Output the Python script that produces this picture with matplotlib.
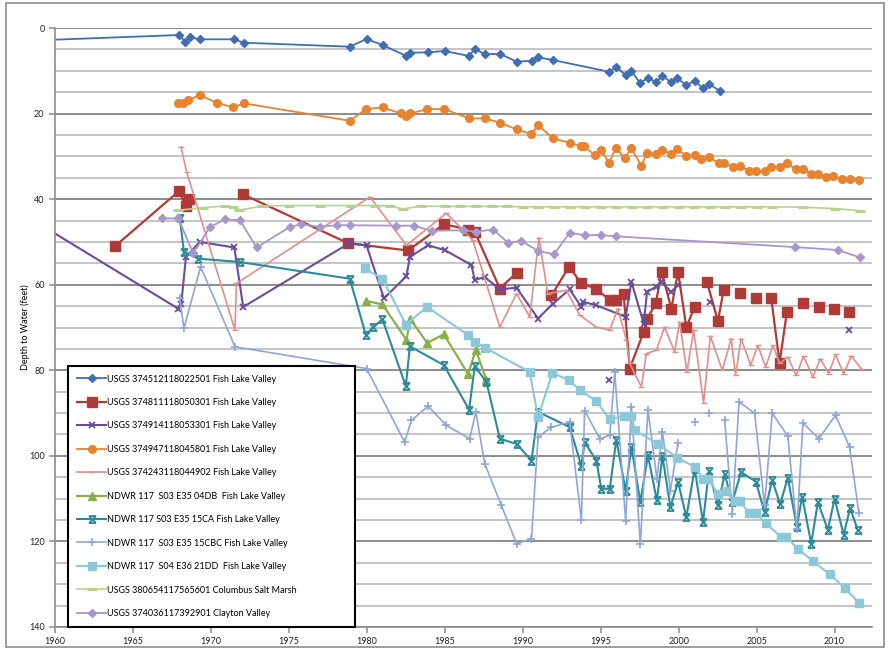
import numpy as np
import matplotlib
matplotlib.use('Agg')
import matplotlib.pyplot as plt
from matplotlib.path import Path
from matplotlib.patches import Rectangle

nan = np.nan

# --- Dados (anos decimais, profundidade em pes) ---
yr_fl1 = [1958.0, 1967.97, 1968.33, 1968.65, 1969.29, 1971.47, 1972.13, 1978.91, 1979.98, 1981.01,
          1982.5, 1982.76, 1983.93, 1985.0, 1986.56, 1986.92, 1987.56, 1988.57, 1989.6, 1990.62,
          1990.98, 1991.94, 1995.53, 1996.01, 1996.6, 1996.97, 1997.5, 1998.03, 1998.57, 1998.96,
          1999.53, 1999.89, 2000.49, 2001.03, 2001.56, 2001.94, 2002.63]
d_fl1 = [3.0, 1.64, 3.2, 2.18, 2.64, 2.64, 3.44, 4.37, 2.57, 3.98,
         6.48, 5.78, 5.68, 5.38, 6.55, 4.91, 6.08, 6.08, 7.88, 7.65,
         6.85, 7.49, 10.22, 9.19, 10.99, 9.99, 12.8, 11.77, 12.56, 11.23,
         12.7, 11.77, 13.33, 12.4, 14.1, 13.1, 14.67]

yr_fl2 = [1963.85, 1967.97, 1968.38, 1968.59, nan, 1972.07, 1978.8, 1982.65, 1984.94, 1986.5,
          1986.92, 1988.53, 1989.6, nan, 1991.84, 1992.97, 1993.76, 1994.68, 1995.58, 1996.0,
          1996.47, 1996.86, 1997.76, 1997.97, 1998.53, 1998.91, 1999.53, 1999.96, 2000.49, 2001.03,
          nan, 2001.81, 2002.52, 2002.88, nan, 2003.91, nan, 2004.98, nan, 2005.94,
          2006.47, 2006.94, nan, 2007.97, nan, 2008.99, nan, 2009.94, nan, 2010.9]
d_fl2 = [51.0, 38.05, 41.6, 40.0, nan, 38.9, 50.3, 52.0, 45.85, 47.1,
         47.6, 60.9, 57.2, nan, 62.5, 55.8, 59.7, 60.9, 63.6, 63.6,
         62.1, 79.6, 71.0, 68.1, 64.3, 57.0, 65.6, 57.0, 69.9, 65.2,
         nan, 59.3, 68.5, 61.3, nan, 61.9, nan, 63.2, nan, 63.2,
         78.3, 66.4, nan, 64.3, nan, 65.2, nan, 65.7, nan, 66.4]

yr_fl3 = [1959.0, 1967.9, 1968.1, 1968.4, 1969.29, 1971.5, 1972.07, 1978.87, 1979.98, 1981.1,
          1982.54, 1982.76, 1983.93, 1985.0, 1986.71, 1986.92, 1987.56, 1988.53, 1989.6, 1990.98,
          1991.94, 1993.01, 1993.76, 1993.87, 1994.72, 1996.6, 1996.97, 1997.76, 1997.97, 1998.53,
          1998.89, 1999.53, 1999.96, nan, 1995.53, nan, 2001.99, nan, 2010.9]
d_fl3 = [45.8, 65.6, 64.4, 53.5, 50.0, 51.3, 65.2, 50.3, 50.8, 63.2,
         58.0, 53.5, 50.8, 51.9, 55.4, 58.9, 58.2, 61.1, 60.7, 67.9,
         64.4, 61.1, 65.2, 64.0, 64.8, 67.5, 59.3, 69.1, 61.7, 60.5,
         59.3, 61.7, 60.1, nan, 82.2, nan, 64.0, nan, 70.6]

yr_fl4 = [1967.9, 1968.22, 1968.54, 1969.29, 1970.37, 1971.43, 1972.12, 1978.91, 1979.94, 1981.01,
          1982.16, 1982.54, 1982.8, 1983.89, 1984.96, 1986.56, 1987.56, 1988.57, 1989.6, 1990.56,
          1990.98, 1991.94, 1993.01, 1993.76, 1993.91, 1994.62, 1995.04, 1995.53, 1995.96, 1996.54,
          1996.97, 1997.61, 1997.97, 1998.57, 1998.96, 1999.53, 1999.89, 2000.49, 2001.03, 2001.46,
          2001.94, 2002.58, 2002.88, 2003.48, 2003.91, 2004.51, 2004.98, 2005.51, 2005.94, 2006.47,
          2006.94, 2007.54, 2007.97, 2008.51, 2008.93, 2009.47, 2009.9, 2010.49, 2010.96, 2011.56]
d_fl4 = [17.47, 17.47, 16.84, 15.67, 17.47, 18.55, 17.61, 21.68, 18.95, 18.55,
         19.95, 20.51, 19.95, 18.95, 18.95, 21.12, 21.12, 22.15, 23.7, 24.8,
         22.69, 25.8, 26.83, 27.6, 27.6, 29.7, 28.54, 31.5, 28.14, 30.34,
         28.14, 32.2, 29.17, 29.47, 28.54, 29.47, 28.3, 29.94, 29.78, 30.64,
         30.25, 31.5, 31.5, 32.44, 32.28, 33.38, 33.38, 33.38, 32.44, 32.44,
         31.65, 32.98, 32.98, 34.15, 34.15, 34.78, 34.55, 35.32, 35.32, 35.56]

yr_fl5 = [1968.08, 1968.44, 1971.54, 1971.64, 1980.2, 1982.54, 1985.1, 1986.8, 1988.53, 1989.6,
          1990.45, 1991.04, 1991.6, 1992.8, 1993.65, 1994.72, 1995.58, 1996.1, 1996.65, 1996.86,
          1997.61, 1997.93, 1998.57, 1999.1, 1999.74, 2000.06, 2000.53, 2000.96, 2001.6, 2002.03,
          2002.8, 2003.37, 2003.65, 2004.0, 2004.62, 2005.08, 2005.58, 2006.05, 2006.47, 2007.0,
          2007.54, 2008.01, 2008.61, 2009.08, 2009.63, 2010.06, 2010.58, 2011.07, 2011.71]
d_fl5 = [27.8, 33.6, 70.6, 59.7, 39.5, 50.8, 43.3, 49.6, 69.9, 62.1,
         67.5, 49.0, 62.1, 61.3, 67.1, 69.9, 70.6, 65.6, 73.0, 78.4,
         83.9, 76.1, 75.3, 69.9, 75.7, 68.7, 80.4, 70.6, 87.6, 72.0,
         80.0, 72.6, 81.2, 72.6, 78.8, 74.2, 79.2, 74.2, 78.4, 76.9,
         81.2, 76.7, 81.6, 77.3, 80.8, 76.3, 80.8, 76.7, 79.6]

yr_04db = [1979.94, 1981.0, 1982.54, 1982.8, 1983.87, 1984.94, 1986.5, 1986.99, 1987.67]
d_04db = [63.8, 64.6, 72.9, 68.1, 73.6, 71.6, 80.9, 75.2, 82.3]

yr_15ca = [1968.0, 1968.27, 1969.19, 1971.86, 1978.91, 1979.94, 1980.4, 1981.0, 1982.5, 1982.76,
           1984.94, 1986.56, 1986.92, 1987.67, 1988.53, 1989.6, 1990.56, 1990.98, 1993.01, 1993.76,
           1993.97, 1994.72, 1995.04, 1995.58, 1996.0, 1996.6, 1996.97, 1997.54, 1998.03, 1998.6,
           1998.96, 1999.47, 1999.96, 2000.49, 2001.03, 2001.56, 2001.94, 2002.52, 2002.95, 2003.44,
           2004.0, 2004.94, 2005.51, 2006.0, 2006.51, 2007.0, 2007.58, 2007.92, 2008.5, 2008.93,
           2009.57, 2010.0, 2010.58, 2011.0, 2011.49]
d_15ca = [44.3, 52.3, 53.9, 54.7, 58.6, 71.8, 69.9, 68.1, 83.7, 74.4,
          78.8, 89.2, 79.1, 82.7, 96.0, 97.2, 101.1, 89.7, 93.3, 102.3,
          96.8, 101.1, 107.7, 107.7, 96.2, 108.1, 97.9, 110.8, 99.9, 110.4,
          100.1, 112.0, 106.1, 114.3, 103.0, 115.5, 103.6, 111.6, 104.3, 110.8,
          103.8, 106.0, 113.1, 105.7, 111.3, 105.1, 116.6, 109.5, 120.5, 110.8,
          117.3, 110.0, 118.4, 112.2, 117.4]

yr_15cbc = [1968.0, 1968.27, 1969.34, 1971.54, 1979.98, 1982.43, 1982.86, 1983.93, 1985.1, 1986.6,
            1986.99, 1987.56, 1988.63, 1989.6, 1990.56, 1990.98, 1991.84, 1993.01, 1993.76, 1993.97,
            1994.94, 1995.58, 1995.9, 1996.6, 1996.97, 1997.54, 1998.03, 1998.6, 1998.96, 1999.47,
            1999.96, nan, 2001.03, nan, 2001.94, nan, 2002.95, 2003.44, 2003.87, 2004.87,
            2005.51, 2006.0, 2007.0, 2007.58, 2007.97, 2008.99, 2010.06, 2010.96, 2011.56]
d_15cbc = [63.2, 70.2, 55.8, 74.5, 79.6, 96.8, 91.7, 88.4, 92.9, 96.0,
           89.7, 101.8, 111.6, 120.5, 119.4, 95.6, 93.3, 92.1, 115.1, 89.4,
           96.0, 95.2, 80.5, 115.2, 88.6, 120.7, 89.2, 105.3, 94.4, 108.1,
           97.0, nan, 92.1, nan, 90.0, nan, 91.7, 113.5, 87.4, 90.0,
           111.6, 90.0, 95.4, 117.0, 92.3, 96.0, 90.5, 97.9, 113.4]

yr_21dd = [1979.87, 1981.0, 1982.5, 1983.87, 1986.5, 1986.92, 1987.56, 1990.45, 1990.98, 1991.9,
           1992.97, 1993.7, 1994.72, 1995.58, 1996.5, 1996.97, 1997.18, 1998.7, 1999.89, 2001.03,
           2001.56, 2001.9, 2002.52, 2003.01, 2003.59, 2003.95, 2004.5, 2004.98, 2005.58, 2006.58,
           2006.9, 2007.65, 2008.61, 2009.68, 2010.64, 2011.56]
d_21dd = [56.2, 58.6, 69.3, 65.2, 71.8, 73.4, 74.7, 80.4, 91.0, 80.6,
          82.3, 84.7, 87.2, 91.5, 90.6, 90.6, 94.0, 97.3, 100.4, 102.6,
          105.3, 105.3, 109.0, 108.2, 110.6, 110.6, 113.4, 113.4, 115.7, 119.0,
          119.0, 121.7, 124.6, 127.7, 130.8, 134.4]

yr_csm = [1967.9, 1969.5, 1970.9, 1971.4, 1971.8, 1973.3, 1975.0, 1977.0, 1979.0, 1980.5,
          1981.5, 1982.3, 1983.5, 1985.0, 1986.0, 1987.0, 1988.0, 1989.0, 1990.0, 1991.0,
          1992.0, 1993.0, 1994.0, 1995.0, 1996.0, 1997.0, 1998.0, 1999.0, 2000.0, 2001.0,
          2002.0, 2003.0, 2004.0, 2005.0, 2006.0, 2008.0, 2010.0, 2011.6]
d_csm = [42.6, 42.0, 41.6, 41.9, 42.6, 41.6, 41.5, 41.5, 41.5, 41.5,
         41.6, 42.3, 41.6, 41.7, 41.7, 41.7, 41.7, 41.7, 41.8, 41.8,
         41.8, 41.8, 41.8, 41.8, 41.8, 41.8, 41.8, 41.8, 41.8, 41.8,
         41.8, 41.8, 41.8, 41.8, 41.8, 41.9, 42.2, 42.7]

yr_cv = [1966.84, 1967.9, 1968.87, 1969.94, 1970.9, 1971.86, 1972.93, 1975.06, 1975.8, 1977.0,
         1978.06, 1978.9, 1981.9, 1983.0, 1984.15, 1986.2, 1987.03, 1988.1, 1989.06, 1989.9,
         1990.98, 1992.0, 1993.0, 1993.97, 1995.04, 1996.0, 2007.44, 2010.21, 2011.6]
d_cv = [44.5, 44.5, 52.7, 46.5, 44.75, 44.9, 51.3, 46.5, 45.85, 46.5,
        46.1, 46.1, 46.2, 46.2, 47.4, 47.25, 47.6, 47.1, 50.2, 49.75,
        52.1, 52.9, 47.9, 48.4, 48.4, 48.7, 51.2, 51.9, 53.6]

labels = ['USGS 374512118022501 Fish Lake Valley',
          'USGS 374811118050301 Fish Lake Valley',
          'USGS 374914118053301 Fish Lake Valley',
          'USGS 374947118045801 Fish Lake Valley',
          'USGS 374243118044902 Fish Lake Valley',
          'NDWR 117  S03 E35 04DB  Fish Lake Valley',
          'NDWR 117 S03 E35 15CA Fish Lake Valley',
          'NDWR 117  S03 E35 15CBC Fish Lake Valley',
          'NDWR 117  S04 E36 21DD  Fish Lake Valley',
          'USGS 380654117565601 Columbus Salt Marsh',
          'USGS 374036117392901 Clayton Valley']

# marcador "estrela" do Excel (X com barras)
star = Path([(-1, -1), (1, 1), (-1, 1), (1, -1), (-1, 1), (1, 1), (-1, -1), (1, -1)],
            [Path.MOVETO, Path.LINETO, Path.MOVETO, Path.LINETO,
             Path.MOVETO, Path.LINETO, Path.MOVETO, Path.LINETO])

series = [
    (yr_fl1, d_fl1, dict(color='#3F6EB3', marker='D', ms=4.5, lw=1.3)),
    (yr_fl2, d_fl2, dict(color='#B03B36', marker='s', ms=6.5, lw=1.6)),
    (yr_fl3, d_fl3, dict(color='#6A4C9C', marker='x', ms=5, mew=1.3, lw=1.5)),
    (yr_fl4, d_fl4, dict(color='#E8832F', marker='o', ms=5.5, lw=1.3)),
    (yr_fl5, d_fl5, dict(color='#E08F8B', marker='_', ms=4, lw=1.2)),
    (yr_04db, d_04db, dict(color='#8AB04B', marker='^', ms=5.5, lw=1.6)),
    (yr_15ca, d_15ca, dict(color='#2B8B9C', marker=star, ms=5, mew=1.3, lw=1.5)),
    (yr_15cbc, d_15cbc, dict(color='#8EA6D8', marker='+', ms=6, mew=1.2, lw=1.2)),
    (yr_21dd, d_21dd, dict(color='#8DC8D8', marker='s', ms=6, lw=1.5)),
    (yr_csm, d_csm, dict(color='#B7D28E', marker='_', ms=7, mew=2.2, lw=1.2)),
    (yr_cv, d_cv, dict(color='#A898C9', marker='D', ms=4.5, lw=1.3)),
]

plt.rcParams['font.family'] = ['Lato', 'DejaVu Sans']

fig = plt.figure(figsize=(8.9, 6.51), dpi=100)
ax = fig.add_axes([55 / 890, 24 / 651, 817 / 890, 599 / 651])

for (x, y, st), lab in zip(series, labels):
    ax.plot(x, y, label=lab, clip_on=True, **st)

ax.set_xlim(1960, 2012.4)
ax.set_ylim(140, 0)
ax.set_xticks(np.arange(1960, 2011, 5))
ax.set_yticks(np.arange(0, 141, 20))
ax.set_yticks(np.arange(0, 141, 5), minor=True)

ax.grid(axis='y', which='major', color='#8C8C8C', lw=1.4)
ax.grid(axis='y', which='minor', color='#C4C4C4', lw=1.4)
ax.set_axisbelow(True)

for s in ['top', 'right']:
    ax.spines[s].set_visible(False)
for s in ['left', 'bottom']:
    ax.spines[s].set_color('#8C8C8C')
    ax.spines[s].set_linewidth(1.2)

ax.tick_params(axis='both', which='major', labelsize=6.5, colors='#8C8C8C',
               labelcolor='#222222', length=4, width=1.1)
ax.tick_params(axis='y', which='minor', length=0)
ax.set_ylabel('Depth to Water (feet)', fontsize=6.5)
ax.yaxis.set_label_coords(-0.031, 0.5)

leg = ax.legend(loc='lower left', bbox_to_anchor=(0.016, 0.0, 0.351, 0.45), mode='expand',
                fontsize=6.5, frameon=True, fancybox=False, labelspacing=1.6,
                handlelength=3.2, handletextpad=0.1, borderpad=1.0, borderaxespad=0.0)
leg.get_frame().set_edgecolor('black')
leg.get_frame().set_linewidth(1.5)
leg.get_frame().set_alpha(1)

# moldura da area do grafico
fig.patches.append(Rectangle((6 / 890, 4 / 651), 878 / 890, 644 / 651, transform=fig.transFigure,
                             fill=False, edgecolor='#8C8C8C', lw=1.2))

plt.savefig('out.png', dpi=100)
